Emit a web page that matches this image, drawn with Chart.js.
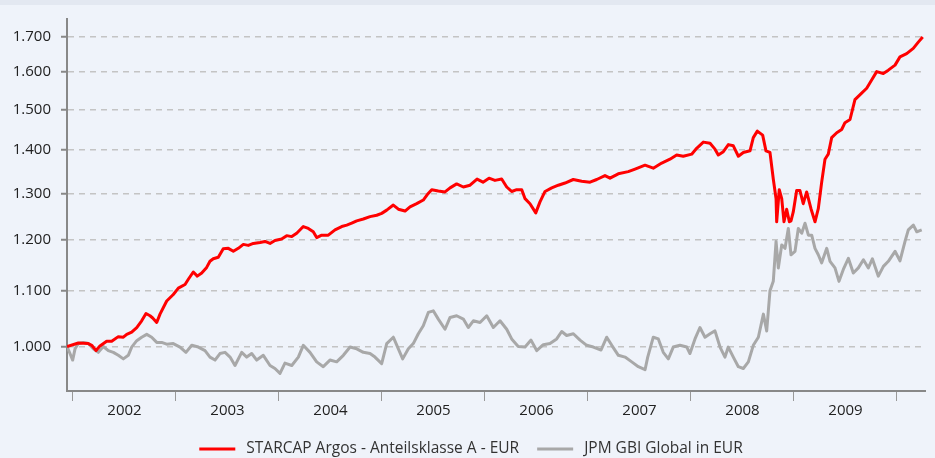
<!DOCTYPE html>
<html><head><meta charset="utf-8">
<script src="https://cdn.jsdelivr.net/npm/chart.js@4"></script>
<style>html,body{margin:0;padding:0;background:#eff3fa;}#wrap{width:935px;height:458px;position:relative;}</style>
</head><body><div id="wrap"><canvas id="c"></canvas></div>
<script>
// Dates as decimal years
const starcapDates = [2001.942,2002.052,2002.149,2002.182,2002.224,2002.262,2002.327,2002.376,2002.440,2002.489,2002.522,2002.570,2002.619,2002.667,2002.709,2002.748,2002.774,2002.813,2002.845,2002.910,2002.974,2003.023,2003.088,2003.120,2003.168,2003.207,2003.250,2003.298,2003.330,2003.362,2003.411,2003.459,2003.508,2003.557,2003.605,2003.654,2003.702,2003.751,2003.816,2003.864,2003.913,2003.961,2004.026,2004.075,2004.124,2004.172,2004.236,2004.285,2004.333,2004.366,2004.415,2004.479,2004.544,2004.609,2004.658,2004.706,2004.755,2004.819,2004.884,2004.949,2004.997,2005.046,2005.110,2005.159,2005.224,2005.272,2005.337,2005.401,2005.440,2005.483,2005.547,2005.612,2005.661,2005.725,2005.790,2005.855,2005.923,2005.981,2006.039,2006.097,2006.162,2006.211,2006.259,2006.308,2006.357,2006.389,2006.437,2006.493,2006.534,2006.583,2006.648,2006.712,2006.777,2006.857,2006.939,2007.020,2007.085,2007.165,2007.214,2007.294,2007.391,2007.457,2007.554,2007.634,2007.716,2007.796,2007.861,2007.925,2008.007,2008.055,2008.120,2008.185,2008.233,2008.265,2008.314,2008.363,2008.411,2008.460,2008.508,2008.573,2008.605,2008.644,2008.696,2008.728,2008.767,2008.799,2008.826,2008.832,2008.857,2008.881,2008.903,2008.929,2008.955,2008.971,2008.993,2009.026,2009.058,2009.090,2009.123,2009.165,2009.204,2009.236,2009.269,2009.301,2009.333,2009.366,2009.415,2009.463,2009.495,2009.544,2009.592,2009.657,2009.706,2009.754,2009.803,2009.867,2009.916,2009.981,2010.029,2010.094,2010.158,2010.207,2010.250];
const starcapValues = [1000,1006,1005,1002,993,1001,1009,1009,1017,1016,1021,1025,1033,1045,1058,1054,1050,1042,1057,1081,1093,1105,1112,1122,1136,1128,1134,1145,1157,1162,1165,1182,1183,1177,1183,1191,1189,1193,1195,1197,1193,1199,1202,1209,1207,1214,1228,1224,1217,1205,1210,1210,1221,1228,1231,1235,1240,1244,1249,1252,1256,1263,1274,1265,1261,1270,1277,1285,1297,1308,1305,1303,1312,1321,1314,1318,1332,1325,1334,1329,1332,1314,1304,1308,1308,1288,1277,1257,1281,1304,1312,1318,1323,1331,1327,1325,1331,1340,1334,1344,1349,1355,1364,1357,1369,1378,1388,1385,1390,1404,1419,1416,1402,1388,1396,1413,1410,1385,1394,1398,1430,1446,1436,1398,1394,1332,1288,1238,1308,1288,1238,1265,1238,1240,1259,1306,1306,1277,1303,1266,1238,1266,1325,1378,1390,1430,1442,1450,1467,1475,1526,1543,1556,1578,1601,1596,1605,1619,1642,1651,1666,1684,1699];
const jpmDates = [2001.942,2001.971,2001.997,2002.020,2002.052,2002.100,2002.149,2002.197,2002.246,2002.294,2002.343,2002.392,2002.440,2002.489,2002.537,2002.570,2002.619,2002.667,2002.716,2002.764,2002.813,2002.861,2002.910,2002.974,2003.039,2003.097,2003.153,2003.217,2003.282,2003.330,2003.379,2003.427,2003.476,2003.525,2003.573,2003.638,2003.687,2003.735,2003.784,2003.848,2003.913,2003.961,2004.010,2004.058,2004.124,2004.188,2004.236,2004.301,2004.366,2004.430,2004.495,2004.560,2004.625,2004.690,2004.755,2004.819,2004.884,2004.932,2004.997,2005.046,2005.110,2005.159,2005.201,2005.256,2005.304,2005.353,2005.401,2005.450,2005.498,2005.547,2005.612,2005.661,2005.725,2005.790,2005.838,2005.887,2005.952,2006.017,2006.081,2006.146,2006.211,2006.259,2006.323,2006.389,2006.447,2006.502,2006.566,2006.631,2006.696,2006.745,2006.793,2006.858,2006.923,2006.988,2007.052,2007.127,2007.182,2007.231,2007.295,2007.360,2007.425,2007.489,2007.554,2007.580,2007.634,2007.683,2007.731,2007.780,2007.828,2007.893,2007.959,2007.990,2008.039,2008.087,2008.136,2008.185,2008.233,2008.282,2008.330,2008.362,2008.411,2008.460,2008.508,2008.557,2008.605,2008.654,2008.703,2008.735,2008.767,2008.799,2008.826,2008.848,2008.881,2008.913,2008.945,2008.971,2009.010,2009.042,2009.075,2009.107,2009.140,2009.172,2009.204,2009.236,2009.269,2009.318,2009.350,2009.398,2009.437,2009.479,2009.528,2009.576,2009.625,2009.674,2009.722,2009.761,2009.819,2009.868,2009.916,2009.981,2010.029,2010.078,2010.110,2010.159,2010.192,2010.240];
const jpmValues = [1000,988,977,996,1005,1007,1005,996,990,1000,993,990,985,979,985,999,1010,1016,1021,1016,1007,1007,1004,1005,999,990,1002,999,993,982,977,988,990,982,968,990,982,988,977,985,968,963,955,972,968,982,1002,990,974,966,977,974,985,999,996,990,988,982,971,1005,1016,996,979,996,1005,1022,1036,1060,1063,1048,1030,1051,1054,1048,1033,1045,1042,1054,1033,1045,1030,1013,1000,999,1011,993,1003,1005,1013,1026,1019,1022,1011,1002,999,994,1016,1002,985,982,974,966,961,982,1016,1013,990,979,999,1002,999,988,1013,1033,1016,1022,1027,999,982,999,982,966,963,974,1002,1016,1057,1027,1100,1118,1197,1144,1190,1183,1224,1170,1177,1224,1214,1235,1210,1210,1183,1170,1154,1183,1157,1144,1118,1141,1163,1134,1144,1160,1144,1162,1128,1147,1157,1177,1158,1197,1221,1231,1217,1221];
const yTickValues = [1000,1100,1200,1300,1400,1500,1600,1700];
const yearLabels = ['2002','2003','2004','2005','2006','2007','2008','2009'];
const seriesNames = ['STARCAP Argos - Anteilsklasse A - EUR','JPM GBI Global in EUR'];

const FONT = "'Open Sans', sans-serif";
const firstYear = 2002;

const bgPlugin = {
  id:'bg',
  beforeDraw(chart){
    const c = chart.ctx;
    c.save();
    c.fillStyle = '#eff3fa';
    c.fillRect(0,0,chart.width,chart.height);
    c.fillStyle = '#e3e8f1';
    c.fillRect(0,0,chart.width,5);
    c.restore();
  }
};

// Bottom legend drawn from the dataset labels/colours
const legendPlugin = {
  id:'bottomLegend',
  afterDraw(chart){
    const c = chart.ctx;
    const sample = 36, gap = 11, between = 18, y = 449;
    c.save();
    c.font = "15.5px " + FONT;
    c.textBaseline = 'middle';
    const ds = chart.data.datasets;
    const widths = ds.map(d => c.measureText(d.label).width);
    let total = 0;
    widths.forEach((w,i)=>{ total += sample + gap + w + (i < widths.length-1 ? between : 0); });
    let x = 471 - total/2;
    ds.forEach((d,i)=>{
      c.strokeStyle = d.borderColor; c.lineWidth = 3; c.lineCap='butt';
      c.beginPath(); c.moveTo(x, y); c.lineTo(x+sample, y); c.stroke();
      x += sample + gap;
      c.fillStyle = '#333';
      c.fillText(d.label, x, y);
      x += widths[i] + between;
    });
    c.restore();
  }
};

function pts(xs, ys){ return xs.map((x,i)=>({x:x, y:ys[i]})); }

new Chart(document.getElementById('c'), {
  type:'line',
  data:{
    datasets:[
      {label:seriesNames[0], data:pts(starcapDates, starcapValues), borderColor:'#ff0000', backgroundColor:'#ff0000', borderWidth:3, pointRadius:0, tension:0, borderJoinStyle:'round'},
      {label:seriesNames[1], data:pts(jpmDates, jpmValues), borderColor:'#a8a8a8', backgroundColor:'#a8a8a8', borderWidth:3, pointRadius:0, tension:0, borderJoinStyle:'round'}
    ]
  },
  options:{
    responsive:true, maintainAspectRatio:false, animation:false, devicePixelRatio:1,
    layout:{padding:{top:15,right:10,bottom:37,left:0}},
    plugins:{ tooltip:{enabled:false}, legend:{display:false} },
    scales:{
      x:{
        type:'linear', min:2001.942, max:2010.272,
        afterBuildTicks(scale){
          const t=[];
          yearLabels.forEach((l,i)=>{ t.push({value:firstYear+i}); t.push({value:firstYear+i+0.5}); });
          t.push({value:firstYear+yearLabels.length});
          scale.ticks=t;
        },
        afterFit(scale){ scale.height = 30; },
        ticks:{autoSkip:false, maxRotation:0, padding:1, color:'#222', font:{family:FONT,size:15},
          callback(v){ return Number.isInteger(v) ? '' : yearLabels[Math.floor(v)-firstYear]; }},
        grid:{drawOnChartArea:false, drawTicks:true, tickLength:10, tickWidth:1,
          tickColor:(ctx)=> (ctx.tick && Number.isInteger(ctx.tick.value)) ? '#999' : 'rgba(0,0,0,0)'},
        border:{display:true, color:'#888', width:2}
      },
      y:{
        type:'logarithmic', min:926.6, max:1752,
        afterBuildTicks(scale){ scale.ticks = yTickValues.map(v=>({value:v})); },
        afterFit(scale){ scale.width = 67; },
        ticks:{padding:10, color:'#222', font:{family:FONT,size:15},
          callback(v){ return (v/1000).toFixed(3); }},
        grid:{color:'#c4c4c4', lineWidth:1.5, borderDash:[6,5], tickLength:6, tickWidth:2, tickColor:'#888', tickBorderDash:[]},
        border:{display:true, color:'#888', width:2, dash:[6,5]}
      }
    }
  },
  plugins:[bgPlugin, legendPlugin]
});
</script>
</body></html>
